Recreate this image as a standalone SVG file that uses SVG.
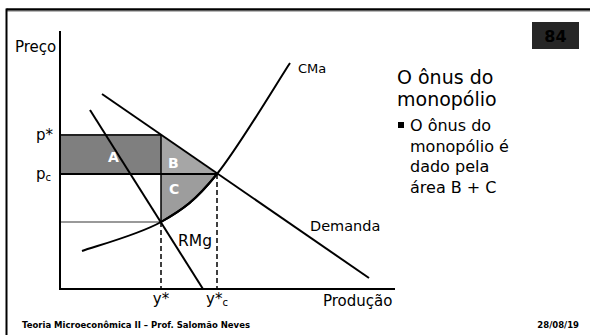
<svg xmlns="http://www.w3.org/2000/svg" width="590" height="335" viewBox="0 0 590 335">
<style>
.t{font-family:"DejaVu Sans","Liberation Sans",sans-serif;fill:#000}
.ln{stroke:#000;stroke-width:2;fill:none}
.ds{stroke:#000;stroke-width:1.5;stroke-dasharray:5,3;fill:none}
.lab{font-family:"DejaVu Sans","Liberation Sans",sans-serif;fill:#fff;font-weight:bold;font-size:14px}
</style>
<rect width="590" height="335" fill="#fff"/>
<g id="frame">
<line x1="6.5" y1="9.5" x2="590" y2="9.5" stroke="#000" stroke-width="2.5"/>
<line x1="590" y1="11.2" x2="6.5" y2="11.2" stroke="#999" stroke-width="1"/>
<line x1="6.5" y1="8.5" x2="6.5" y2="335" stroke="#000" stroke-width="2"/>
</g>
<g id="page-number">
<rect x="532" y="22" width="47" height="27" fill="#262626"/>
<text x="555.5" y="42" class="t" font-size="16" font-weight="bold" text-anchor="middle" fill="#000">84</text>
</g>
<g id="areas">
<rect id="area-A" x="60" y="135" width="101" height="39" fill="#7f7f7f"/>
<polygon id="area-B" points="161,135 217,174 161,174" fill="#a6a6a6"/>
<path id="area-C" d="M161,174 L217,174 C195.5,200.5 183.5,209.2 161,222 Z" fill="#9d9d9d"/>
</g>
<g id="connectors">
<line x1="60" y1="135" x2="161" y2="135" stroke="#222" stroke-width="2"/>
<line x1="60" y1="174" x2="217" y2="174" stroke="#000" stroke-width="2"/>
<line x1="60" y1="222" x2="161" y2="222" stroke="#777" stroke-width="1.5"/>
<line x1="161" y1="135" x2="161" y2="222" stroke="#000" stroke-width="1.5"/>
<line class="ds" x1="161" y1="222" x2="161" y2="289"/>
<line class="ds" x1="217" y1="174" x2="217" y2="289"/>
<line id="demanda" class="ln" x1="102" y1="94" x2="369" y2="278"/>
<line id="rmg" class="ln" x1="90" y1="110" x2="203" y2="289"/>
<path id="cma" class="ln" d="M82,251 C95.2,246.2 138.5,234.8 161,222 C183.5,209.2 195.5,200.5 217,174 C238.5,147.5 277.8,81.5 290,63"/>
<path class="ln" stroke-width="3" d="M161,222 C183.5,209.2 195.5,200.5 217,174"/>
<line id="eixo-y" class="ln" x1="60" y1="31" x2="60" y2="290" stroke-width="2.5"/>
<line id="eixo-x" class="ln" x1="59" y1="289" x2="395" y2="289" stroke-width="2.5"/>
</g>
<g id="labels">
<text x="15" y="52" class="t" font-size="15">Preço</text>
<text x="36" y="140" class="t" font-size="15">p*</text>
<text x="36" y="179" class="t" font-size="15">p<tspan font-size="10" dy="2">c</tspan></text>
<text x="161" y="304" class="t" font-size="15" text-anchor="middle">y*</text>
<text x="206" y="304" class="t" font-size="15">y*<tspan font-size="10" dy="2">c</tspan></text>
<text x="298" y="73" class="t" font-size="13">CMa</text>
<text x="310" y="231" class="t" font-size="14.5">Demanda</text>
<text x="178" y="246" class="t" font-size="15.5">RMg</text>
<text x="323" y="306" class="t" font-size="15">Produção</text>
<text x="108" y="162" class="lab">A</text>
<text x="168" y="168" class="lab">B</text>
<text x="169" y="194" class="lab">C</text>
</g>
<g id="texto">
<text x="397" y="84" class="t" font-size="19">O ônus do</text>
<text x="397" y="106" class="t" font-size="19">monopólio</text>
<rect x="398" y="122" width="6" height="6" fill="#000"/>
<text x="410" y="131" class="t" font-size="16">O ônus do</text>
<text x="410" y="152" class="t" font-size="16">monopólio é</text>
<text x="410" y="172" class="t" font-size="16">dado pela</text>
<text x="410" y="193" class="t" font-size="16">área B + C</text>
</g>
<g id="footer">
<text x="22" y="328" class="t" font-size="8.5" font-weight="bold">Teoria Microeconômica II – Prof. Salomão Neves</text>
<text x="579" y="328" class="t" font-size="8.5" font-weight="bold" text-anchor="end">28/08/19</text>
</g>
</svg>
